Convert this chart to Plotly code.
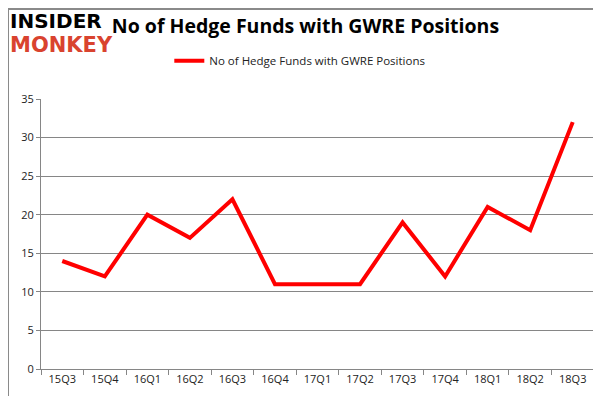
import plotly.graph_objects as go

quarters = ["15Q3", "15Q4", "16Q1", "16Q2", "16Q3", "16Q4", "17Q1", "17Q2", "17Q3", "17Q4", "18Q1", "18Q2", "18Q3"]
funds = [14, 12, 20, 17, 22, 11, 11, 11, 19, 12, 21, 18, 32]
series_name = "No of Hedge Funds with GWRE Positions"
y_ticks = [0, 5, 10, 15, 20, 25, 30, 35]

fig = go.Figure()
fig.add_trace(go.Scatter(
    x=quarters, y=funds, mode="lines", name=series_name,
    line=dict(color="#ff0000", width=4),
))

grid = "#868686"
font_fam = "Open Sans, Liberation Sans, sans-serif"

fig.update_layout(
    width=601, height=396,
    margin=dict(l=33, r=15, t=91, b=35),
    paper_bgcolor="white", plot_bgcolor="white",
    showlegend=True,
    legend=dict(orientation="h", x=0.468, xanchor="center", y=0.83, yanchor="bottom",
                yref="container", font=dict(family=font_fam, size=11.5, color="#222"),
                bgcolor="rgba(0,0,0,0)"),
    title=dict(text="<b>" + series_name + "</b>", x=0.495, xanchor="center", y=0.955, yanchor="middle",
               font=dict(family=font_fam, size=19.5, color="black")),
    xaxis=dict(type="category", range=[-0.5, 12.5], showgrid=False, showline=True, linecolor=grid, linewidth=1,
               ticks="outside", ticklen=5, tickcolor=grid, tickson="boundaries",
               tickfont=dict(family=font_fam, size=11, color="#222"), fixedrange=True),
    yaxis=dict(range=[0, 35], tickvals=y_ticks, showgrid=True, gridcolor=grid, gridwidth=1,
               showline=True, linecolor=grid, linewidth=1, ticks="outside", ticklen=4, tickcolor=grid,
               zeroline=False,
               tickfont=dict(family=font_fam, size=11, color="#222"), fixedrange=True),
)

# outer border
fig.add_shape(type="rect", xref="x domain", yref="y domain",
              x0=-33/553, x1=1 + 14/553, y0=-33/270, y1=1 + 90/270,
              line=dict(color="#8a8a8a", width=2))

fig.add_annotation(text="<b>INSIDER</b>", xref="paper", yref="paper", x=-33/553, y=1 + 65/270,
                   xanchor="left", yanchor="bottom", xshift=1, showarrow=False, borderpad=0,
                   font=dict(family="DejaVu Sans", size=20, color="black"))
fig.add_annotation(text="<b>MONKEY</b>", xref="paper", yref="paper", x=-33/553, y=1 + 65/270,
                   xanchor="left", yanchor="top", xshift=1, yshift=2, showarrow=False, borderpad=0,
                   font=dict(family="DejaVu Sans", size=21, color="#d9432f"))

fig.write_html("out.html")
